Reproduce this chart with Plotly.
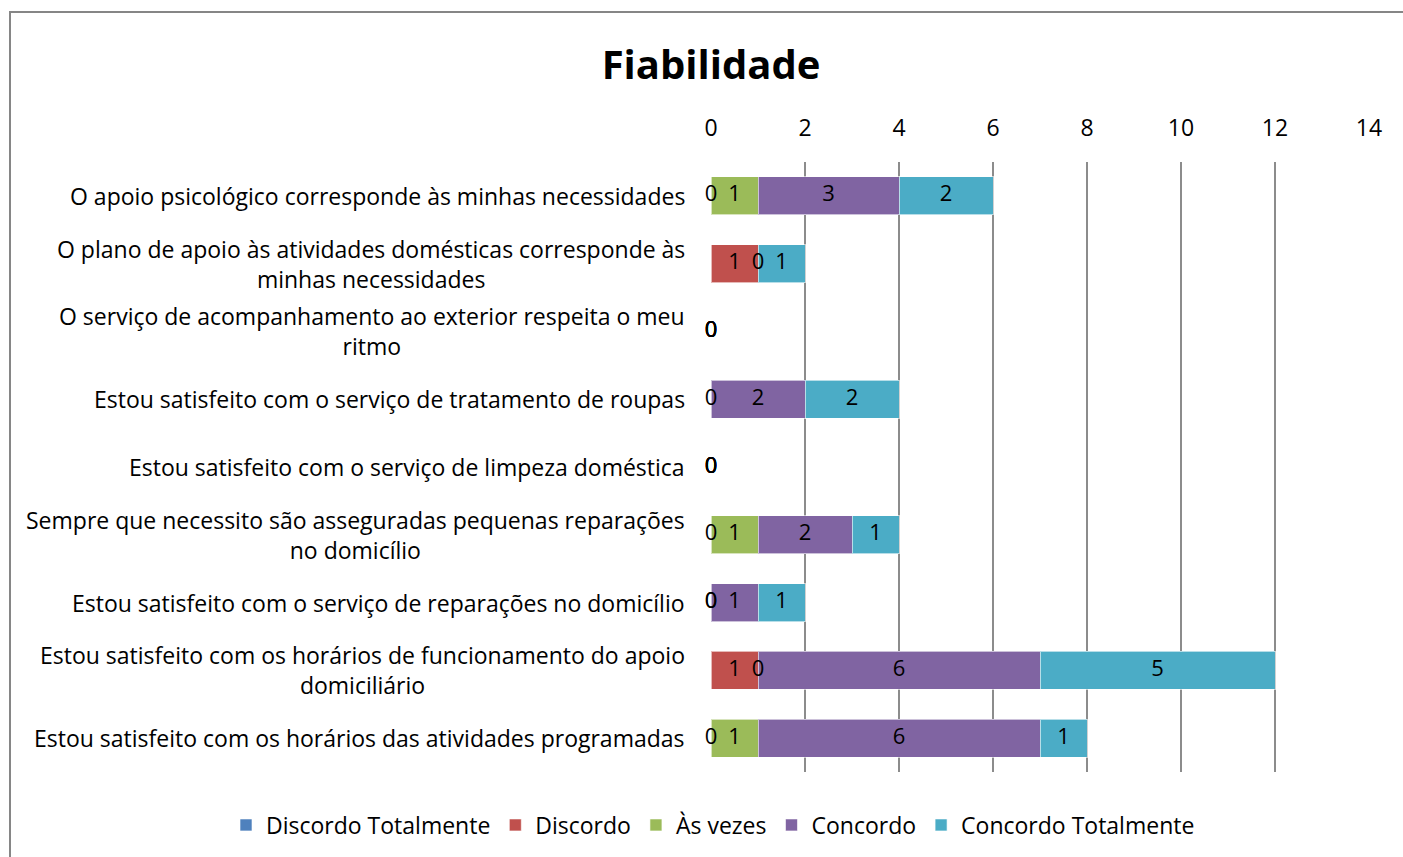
import plotly.graph_objects as go

categories = [
    "O apoio psicológico corresponde às minhas necessidades",
    "O plano de apoio às atividades domésticas corresponde às<br>minhas necessidades",
    "O serviço de acompanhamento ao exterior respeita o meu<br>ritmo",
    "Estou satisfeito com o serviço de tratamento de roupas",
    "Estou satisfeito com o serviço de limpeza doméstica",
    "Sempre que necessito são asseguradas pequenas reparações<br>no domicílio",
    "Estou satisfeito com o serviço de reparações no domicílio",
    "Estou satisfeito com os horários de funcionamento do apoio<br>domiciliário",
    "Estou satisfeito com os horários das atividades programadas",
]
series_names = ["Discordo Totalmente", "Discordo", "Às vezes", "Concordo", "Concordo Totalmente"]
discordo_totalmente = [0, None, 0, 0, 0, 0, 0, None, 0]
discordo = [None, 1, 0, None, 0, None, 0, 1, None]
as_vezes = [1, 0, 0, None, 0, 1, None, 0, 1]
concordo = [3, None, 0, 2, 0, 2, 1, 6, 6]
concordo_totalmente = [2, 1, 0, 2, 0, 1, 1, 5, 1]
colors = ["#4F81BD", "#C0504D", "#9BBB59", "#8064A2", "#4BACC6"]

all_series = [discordo_totalmente, discordo, as_vezes, concordo, concordo_totalmente]

FONT = "Open Sans"
fig = go.Figure()

for name, vals, col in zip(series_names, all_series, colors):
    fig.add_trace(go.Bar(
        y=categories, x=[v if v is not None else 0 for v in vals], name=name,
        orientation="h", marker=dict(color=col, line=dict(color="rgba(255,255,255,0.6)", width=1)),
        hoverinfo="skip",
    ))

# data labels at segment centers
lx, ly, lt = [], [], []
for i, cat in enumerate(categories):
    cum = 0
    for vals in all_series:
        v = vals[i]
        if v is None:
            continue
        lx.append(cum + v / 2)
        ly.append(cat)
        lt.append(str(v))
        cum += v
fig.add_trace(go.Scatter(
    x=lx, y=ly, text=lt, mode="text", showlegend=False, cliponaxis=False,
    textfont=dict(family=FONT, size=22, color="black"), hoverinfo="skip",
))

for cat in categories:
    fig.add_annotation(
        x=0, xref="paper", y=cat, yref="y", text=cat, showarrow=False,
        xanchor="right", yanchor="middle", align="center", xshift=-24,
        font=dict(family=FONT, size=23, color="black"),
    )

W, H = 1403, 857
L, R, T, B = 711, 34, 162, 85
pw, ph = W - L - R, H - T - B
fig.add_shape(type="rect", xref="paper", yref="paper",
              x0=(10 - L) / pw, x1=(W + 20 - L) / pw,
              y0=-(B + 20) / ph, y1=(H - 12 - B) / ph,
              line=dict(color="#868686", width=2), layer="below")

fig.update_layout(
    width=W, height=H,
    margin=dict(l=L, r=R, t=T, b=B, autoexpand=False),
    barmode="stack", bargap=0.44,
    plot_bgcolor="white", paper_bgcolor="white",
    title=dict(text="<b>Fiabilidade</b>", x=711 / W, xanchor="center", y=1 - 65 / H, yanchor="middle",
               font=dict(family=FONT, size=40, color="black")),
    xaxis=dict(side="top", range=[0, 14], dtick=2, showgrid=True, gridcolor="#8C8C8C", gridwidth=2,
               zeroline=False, showline=False, ticks="", ticklabelstandoff=20,
               tickfont=dict(family=FONT, size=23, color="black"), fixedrange=True),
    yaxis=dict(autorange="reversed", showticklabels=False, showgrid=False, zeroline=False, ticks=""),
    legend=dict(orientation="h", x=(226 - L) / pw, xanchor="left",
                y=-53 / ph, yanchor="middle", font=dict(family=FONT, size=23, color="black"),
                traceorder="normal", itemwidth=30),
)

fig.write_html("out.html", config={"displayModeBar": False},
               post_script="document.body.style.margin='0';document.body.style.padding='0';")
